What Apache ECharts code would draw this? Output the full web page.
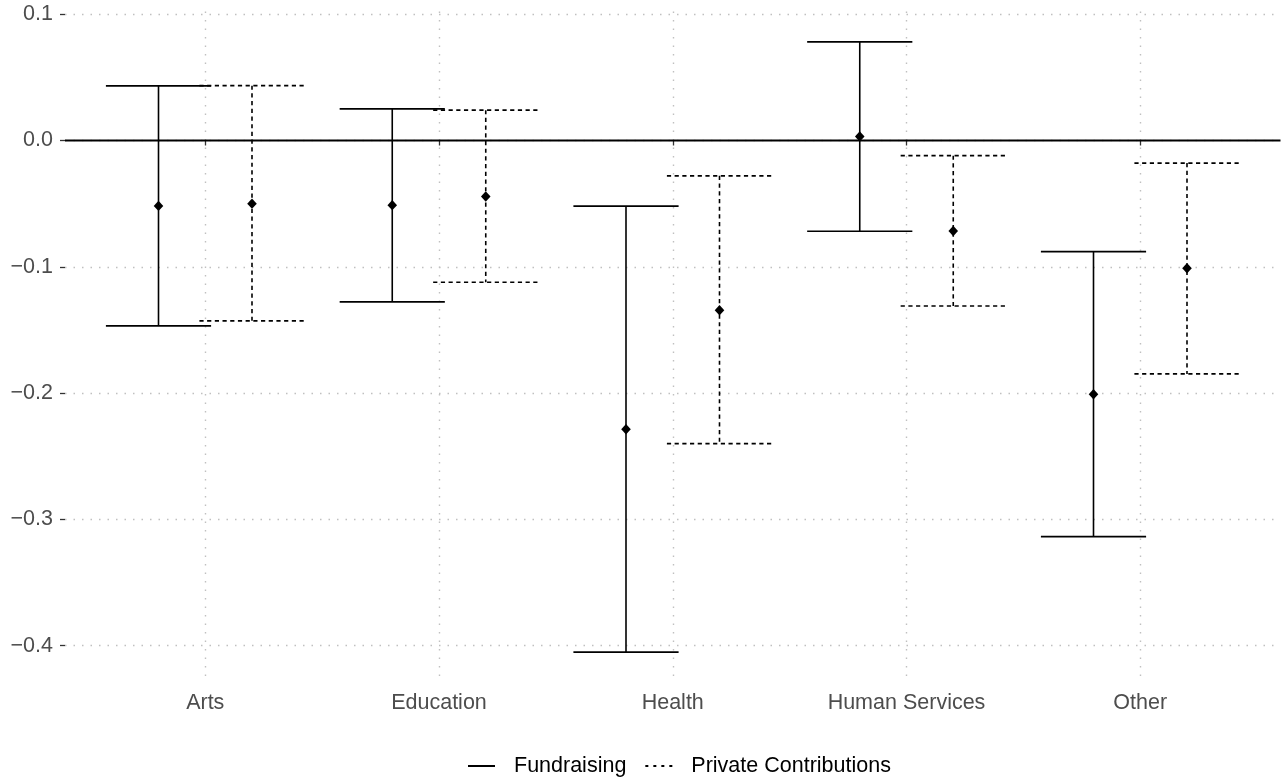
<!DOCTYPE html>
<html>
<head>
<meta charset="utf-8">
<script src="https://cdn.jsdelivr.net/npm/echarts@6/dist/echarts.min.js"></script>
<style>
html,body{margin:0;padding:0;background:#fff;}
#chart{width:1283px;height:778px;}
</style>
</head>
<body>
<div id="chart"></div>
<script>
const categories = ['Arts', 'Education', 'Health', 'Human Services', 'Other'];
const fundEst  = [-0.0518, -0.0512, -0.2286,  0.0031, -0.2009];
const fundLow  = [-0.1468, -0.1278, -0.4051, -0.0718, -0.3136];
const fundHigh = [ 0.0432,  0.0250, -0.0520,  0.0781, -0.0880];
const privEst  = [-0.0500, -0.0444, -0.1344, -0.0717, -0.1011];
const privLow  = [-0.1428, -0.1122, -0.2400, -0.1310, -0.1848];
const privHigh = [ 0.0434,  0.0240, -0.0280, -0.0120, -0.0179];
const yTicks = [-0.4, -0.3, -0.2, -0.1, 0.0, 0.1];
const seriesNames = ['Fundraising', 'Private Contributions'];

const FONT = '"Liberation Sans", Arial, Helvetica, sans-serif';
const xPositions = categories.map((c, i) => i + 1);

function rows(est, low, high) {
  return categories.map((c, i) => [i + 1, est[i], low[i], high[i]]);
}

function makeRender(offset, dash) {
  return function (params, api) {
    const x = api.value(0) + offset;
    const est = api.value(1), lo = api.value(2), hi = api.value(3);
    const pHi = api.coord([x, hi]);
    const pLo = api.coord([x, lo]);
    const pE = api.coord([x, est]);
    const l = api.coord([x - 0.225, hi])[0];
    const r = api.coord([x + 0.225, hi])[0];
    const st = { stroke: '#000', lineWidth: 1.6, lineDash: dash, fill: null, lineCap: 'butt' };
    const d = 5.2;
    return {
      type: 'group',
      children: [
        { type: 'line', shape: { x1: pHi[0], y1: pHi[1], x2: pLo[0], y2: pLo[1] }, style: st },
        { type: 'line', shape: { x1: l, y1: pHi[1], x2: r, y2: pHi[1] }, style: st },
        { type: 'line', shape: { x1: l, y1: pLo[1], x2: r, y2: pLo[1] }, style: st },
        { type: 'polygon', shape: { points: [[pE[0], pE[1] - d], [pE[0] + d * 0.92, pE[1]], [pE[0], pE[1] + d], [pE[0] - d * 0.92, pE[1]]] },
          style: { fill: '#000', stroke: null } }
      ]
    };
  };
}

const chart = echarts.init(document.getElementById('chart'), null, { renderer: 'canvas' });
const gridLine = { show: true, lineStyle: { color: '#c0c0c0', width: 1.4, type: [1.5, 7] } };

chart.setOption({
  animation: false,
  backgroundColor: '#fff',
  grid: { left: 65, right: 2.5, top: 11.4, bottom: 95.4, containLabel: false },
  xAxis: {
    type: 'value', min: 0.4, max: 5.6,
    axisLine: { show: false },
    axisTick: { show: true, length: 5, customValues: xPositions, lineStyle: { color: '#333', width: 1.3 } },
    axisLabel: {
      customValues: xPositions, margin: 9,
      formatter: v => categories[Math.round(v) - 1] || '',
      color: '#4d4d4d', fontSize: 21.5, fontFamily: FONT
    },
    splitLine: gridLine
  },
  yAxis: {
    type: 'value', min: -0.4292, max: 0.1022,
    axisLine: { show: false },
    axisTick: { show: true, length: 5, customValues: yTicks, lineStyle: { color: '#333', width: 1.3 } },
    axisLabel: {
      customValues: yTicks, margin: 12,
      formatter: v => (v < -1e-9 ? '\u2212' : '') + Math.abs(v).toFixed(1),
      color: '#4d4d4d', fontSize: 21.5, fontFamily: FONT
    },
    splitLine: gridLine
  },
  legend: {
    left: 468, top: 755, padding: 0,
    orient: 'horizontal',
    itemWidth: 27, itemHeight: 2, itemGap: 19,
    textStyle: { color: '#000', fontSize: 21.5, fontFamily: FONT, padding: [0, 0, 0, 14] },
    selectedMode: false,
    data: [
      { name: seriesNames[0], icon: 'path://M0,0H27V2H0Z', itemStyle: { color: '#000' } },
      { name: seriesNames[1], icon: 'path://M0,0H3V2H0Z M8,0H11V2H8Z M16,0H19V2H16Z M24,0H27V2H24Z', itemStyle: { color: '#000' } }
    ]
  },
  series: [
    {
      type: 'line', name: 'zero', silent: true, symbol: 'none', z: 1,
      data: [[0.4, 0], [5.6, 0]],
      lineStyle: { color: '#000', width: 1.9 }
    },
    {
      type: 'custom', name: seriesNames[0], silent: true, z: 3,
      itemStyle: { color: '#000' },
      encode: { x: 0, y: [1, 2, 3] },
      renderItem: makeRender(-0.2, null),
      data: rows(fundEst, fundLow, fundHigh)
    },
    {
      type: 'custom', name: seriesNames[1], silent: true, z: 3,
      itemStyle: { color: '#000' },
      encode: { x: 0, y: [1, 2, 3] },
      renderItem: makeRender(0.2, [4.2, 3.5]),
      data: rows(privEst, privLow, privHigh)
    }
  ]
});
</script>
</body>
</html>
